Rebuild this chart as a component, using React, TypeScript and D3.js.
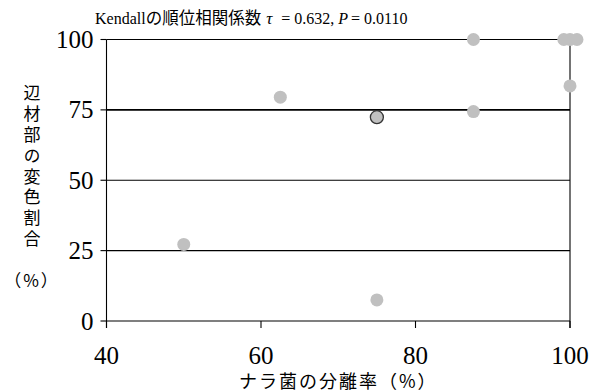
import React from 'react'
import { scaleLinear } from 'd3'

// 分離率 (%) と 変色割合 (%)
const isolationRate = [50, 62.5, 75, 87.5, 87.5, 99.2, 100, 100.9, 100]
const discolorRate = [27.2, 79.5, 7.5, 100, 74.4, 100, 100, 100, 83.5]
// 強調する点
const highlightX = [75]
const highlightY = [72.4]

const xTicks = [40, 60, 80, 100]
const yTicks = [0, 25, 50, 75, 100]
const gridValues = [25, 50, 75, 100]

const yLabel = '辺材部の変色割合'

const serif = "'Liberation Serif'"
const gothic = "'Noto Sans CJK JP'"

const App = () => {
    const width = 592
    const height = 392
    const left = 106.5
    const right = 570
    const top = 39.5
    const bottom = 321

    const xScale = scaleLinear().domain([40, 100]).range([left, right])
    const yScale = scaleLinear().domain([0, 100]).range([bottom, top])

    const fill = '#c0c0c0'

    return (
        <svg width={width} height={height} style={{ position: 'absolute', left: 0, top: 0 }}>
            <rect width={width} height={height} fill='#fff' />

            {/* grid lines */}
            {gridValues.map(v => (
                <line key={'g' + v} x1={left} x2={right} y1={yScale(v)} y2={yScale(v)}
                    stroke='#000' strokeWidth={v === 75 ? 1.6 : 1.1} />
            ))}
            {/* axes */}
            <line x1={left} x2={right} y1={bottom} y2={bottom} stroke='#000' strokeWidth={1.1} />
            <line x1={left} x2={left} y1={top} y2={bottom + 7} stroke='#000' strokeWidth={1.1} />
            <line x1={right} x2={right} y1={top} y2={bottom + 7} stroke='#000' strokeWidth={1.1} />

            {yTicks.map(t => (
                <g key={'y' + t}>
                    <line x1={left - 6} x2={left} y1={yScale(t)} y2={yScale(t)} stroke='#000' strokeWidth={1.1} />
                    <text x={left - 13} y={yScale(t) + 8.5} textAnchor='end' fontFamily={serif} fontSize={25}>{t}</text>
                </g>
            ))}
            {xTicks.map(t => (
                <g key={'x' + t}>
                    <line x1={xScale(t)} x2={xScale(t)} y1={bottom} y2={bottom + 7} stroke='#000' strokeWidth={1.1} />
                    <text x={xScale(t)} y={364} textAnchor='middle' fontFamily={serif} fontSize={25}>{t}</text>
                </g>
            ))}

            {/* points */}
            {isolationRate.map((x, i) => (
                <circle key={'p' + i} cx={xScale(x)} cy={yScale(discolorRate[i])} r={6.5} fill={fill} />
            ))}
            {highlightX.map((x, i) => (
                <circle key={'h' + i} cx={xScale(x)} cy={yScale(highlightY[i])} r={6.5}
                    fill={fill} stroke='#333' strokeWidth={1.3} />
            ))}

            {/* title */}
            <text x={95} y={24} fontFamily={serif} fontSize={16}>
                Kendall<tspan fontFamily={gothic} fontSize={16.5}>の順位相関係数</tspan>
                <tspan dx={5} fontStyle='italic' fontSize={17}>τ</tspan>
                <tspan dx={9}>= 0.632,</tspan>
                <tspan dx={4} fontStyle='italic'>P</tspan>
                <tspan dx={3}>= 0.0110</tspan>
            </text>

            {/* y label */}
            <text x={32} y={84} fontFamily={gothic} fontSize={17} style={{ writingMode: 'vertical-rl', letterSpacing: 3.9 }}>
                {yLabel}
            </text>
            <text x={32} y={287} textAnchor='middle' fontFamily={gothic} fontSize={17} letterSpacing={2}>（%）</text>

            {/* x label */}
            <text x={(left + right) / 2} y={388} textAnchor='middle' fontFamily={gothic} fontSize={18} letterSpacing={2}>
                ナラ菌の分離率（%）
            </text>
        </svg>
    )
}

export default App
